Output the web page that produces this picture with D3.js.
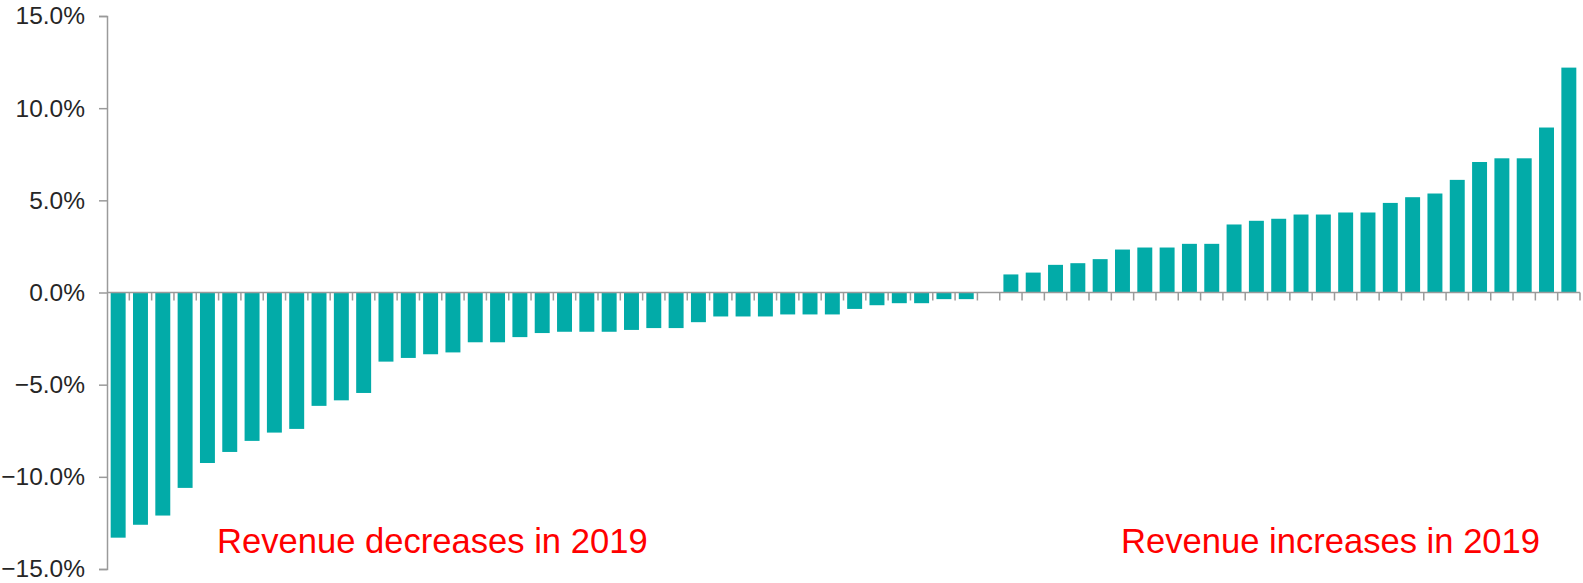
<!DOCTYPE html>
<html>
<head>
<meta charset="utf-8">
<script src="https://cdn.jsdelivr.net/npm/d3@7"></script>
<style>
  html, body { margin: 0; padding: 0; background: #fff; }
  svg { display: block; }
</style>
</head>
<body>
<svg id="chart" width="1583" height="583"></svg>
<script>
// Data: revenue change 2019 by company (sorted)
const negativeValues = [-13.3, -12.6, -12.1, -10.6, -9.25, -8.65, -8.05, -7.6, -7.4, -6.15, -5.85, -5.45,
  -3.75, -3.55, -3.35, -3.25, -2.7, -2.7, -2.42, -2.2, -2.13, -2.13, -2.13, -2.03, -1.93, -1.93,
  -1.61, -1.3, -1.3, -1.3, -1.19, -1.19, -1.19, -0.89, -0.69, -0.58, -0.58, -0.36, -0.36];
const zeroValues = [0];
const positiveValues = [0.98, 1.08, 1.5, 1.59, 1.81, 2.33, 2.44, 2.44, 2.64, 2.64, 3.69, 3.89, 4.0,
  4.23, 4.23, 4.34, 4.34, 4.86, 5.17, 5.37, 6.11, 7.08, 7.28, 7.28, 8.95, 12.2];
const values = negativeValues.concat(zeroValues, positiveValues);
const categories = values.map((d, i) => "C" + (i + 1));
const yTicks = [-15, -10, -5, 0, 5, 10, 15];
const annotations = ["Revenue decreases in 2019", "Revenue increases in 2019"];

(function () {
const svg = d3.select("#chart");
const mLeft = 107, mRight = 1580, mTop = 16, mBottom = 569;

const x = d3.scaleBand().domain(categories).range([mLeft, mRight]).paddingInner(0.33).paddingOuter(0.165);
const y = d3.scaleLinear().domain([-15, 15]).range([mBottom, mTop]);

const axisColor = "#9a9a9a";

// bars
svg.append("g").selectAll("rect").data(values).join("rect")
  .attr("x", (d, i) => x(categories[i]))
  .attr("width", x.bandwidth())
  .attr("y", d => y(Math.max(0, d)))
  .attr("height", d => Math.abs(y(d) - y(0)))
  .attr("fill", "#02ABA8");

// y axis
const yAxis = d3.axisLeft(y).tickValues(yTicks).tickFormat(d => d3.format(".1f")(d) + "%").tickSize(8).tickPadding(14);
const gy = svg.append("g").attr("transform", `translate(${mLeft},0)`).call(yAxis);
gy.select(".domain").attr("stroke", axisColor).attr("stroke-width", 1.5);
gy.selectAll(".tick line").attr("stroke", axisColor).attr("stroke-width", 1.5);
gy.selectAll(".tick text")
  .attr("fill", "#262626")
  .style("font-family", "'Liberation Sans', Arial, sans-serif")
  .style("font-size", "24.5px");

// x axis at zero: ticks at band boundaries
const gx = svg.append("g");
gx.append("line")
  .attr("x1", mLeft).attr("x2", mRight)
  .attr("y1", y(0)).attr("y2", y(0))
  .attr("stroke", axisColor).attr("stroke-width", 1.5);
const bx = categories.map(c => x(c) + x.bandwidth() + x.step() * x.paddingInner() / 2);
gx.selectAll("line.t").data(bx).join("line").attr("class", "t")
  .attr("x1", d => d).attr("x2", d => d)
  .attr("y1", y(0)).attr("y2", y(0) + 8)
  .attr("stroke", axisColor).attr("stroke-width", 1.5);

// annotations
svg.append("text").attr("x", 217).attr("y", 553).text(annotations[0])
  .attr("fill", "#FF0000")
  .style("font-family", "'Liberation Sans', Arial, sans-serif")
  .style("font-size", "34.6px");
svg.append("text").attr("x", 1121).attr("y", 553).text(annotations[1])
  .attr("fill", "#FF0000")
  .style("font-family", "'Liberation Sans', Arial, sans-serif")
  .style("font-size", "34.6px");
})();
</script>
</body>
</html>
